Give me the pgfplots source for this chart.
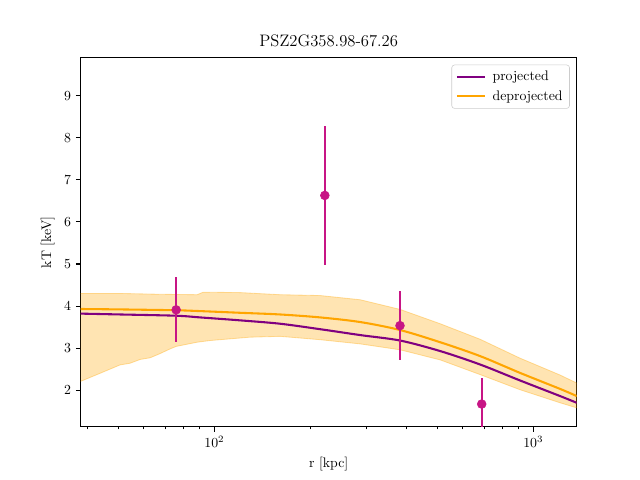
\documentclass[border=0pt]{standalone}
\usepackage{pgfplots}
\pgfplotsset{compat=1.18}
\definecolor{mplpurple}{HTML}{800080}
\definecolor{mplorange}{HTML}{FFA500}
\definecolor{mvred}{HTML}{C71585}

% deprojected model: 1-sigma band, upper edge then lower edge reversed
\pgfplotstableread{
r     T
38.1  4.30
50.6  4.30
67.6  4.28
88.3  4.27
92.3  4.33
120.4 4.32
160.7 4.27
214.6 4.25
286.6 4.15
382.3 3.92
510.4 3.58
681.3 3.21
909.1 2.76
1213  2.36
1368  2.17
1368  1.58
1213  1.70
909.1 2.01
681.3 2.37
510.4 2.72
382.3 2.96
286.6 3.10
214.6 3.20
160.7 3.28
129.4 3.26
112.0 3.22
96.9  3.18
88.3  3.14
75.9  3.04
72.6  2.98
67.6  2.87
62.9  2.77
58.5  2.73
54.4  2.64
50.6  2.60
43.8  2.40
38.1  2.21
}\bandtab

% projected profile
\pgfplotstableread{
r     T
38.1  3.82
50.6  3.80
75.9  3.77
90.2  3.73
120.4 3.66
160.7 3.58
214.6 3.45
286.6 3.31
382.3 3.18
510.4 2.93
681.3 2.61
909.1 2.23
1213  1.86
1368  1.70
}\projtab

% deprojected profile
\pgfplotstableread{
r     T
38.1  3.93
50.6  3.92
75.9  3.90
90.2  3.88
120.4 3.84
160.7 3.80
214.6 3.73
286.6 3.62
382.3 3.43
510.4 3.14
681.3 2.81
909.1 2.41
1213  2.03
1368  1.86
}\deprojtab

% measured temperatures
\pgfplotstableread{
r    T     err
75.9 3.91  0.77
222  6.63  1.66
382  3.535 0.815
689  1.67  0.62
}\obstab

\begin{document}
\begin{tikzpicture}
\useasboundingbox (0pt,0pt) rectangle (462.53pt,346.90pt);
\begin{axis}[
  at={(58.3pt,38.5pt)}, anchor=south west,
  width=358.5pt, height=266.7pt, scale only axis,
  xmode=log, xmin=38.1, xmax=1368, ymin=1.131, ymax=9.905,
  ytick={2,3,4,5,6,7,8,9},
  axis line style={line width=0.8pt},
  tick align=outside,
  xtick pos=bottom, ytick pos=left,
  major tick length=3.5pt, minor tick length=2pt,
  tick style={black, line width=0.8pt},
  minor tick style={line width=0.6pt},
  tick label style={font=\normalsize},
  label style={font=\normalsize},
  title={PSZ2G358.98-67.26},
  title style={font=\large, yshift=-2pt},
  xlabel={r [kpc]}, ylabel={kT [keV]},
  legend style={at={(0.986,0.981)}, anchor=north east, draw=black!20, rounded corners=2pt,
    font=\normalsize, row sep=1.5pt, column sep=3pt, inner xsep=3pt, inner ysep=2.5pt},
  legend cell align=left,
  legend image code/.code={\draw[#1] (0pt,0pt) -- (20pt,0pt);},
]
\addplot[fill=mplorange, fill opacity=0.3, draw=mplorange, draw opacity=0.35,
  line width=0.6pt, forget plot] table[x=r, y=T] {\bandtab};

\addplot[mplpurple, line width=1.5pt, smooth] table[x=r, y=T] {\projtab};
\addlegendentry{projected}
\addplot[mplorange, line width=1.5pt, smooth] table[x=r, y=T] {\deprojtab};
\addlegendentry{deprojected}

\addplot[mvred, only marks, mark=*, mark size=3.2pt, forget plot,
  error bars/.cd, y dir=both, y explicit,
  error bar style={line width=1.5pt, mvred}, error mark=none]
  table[x=r, y=T, y error=err] {\obstab};
\end{axis}
\end{tikzpicture}
\end{document}
